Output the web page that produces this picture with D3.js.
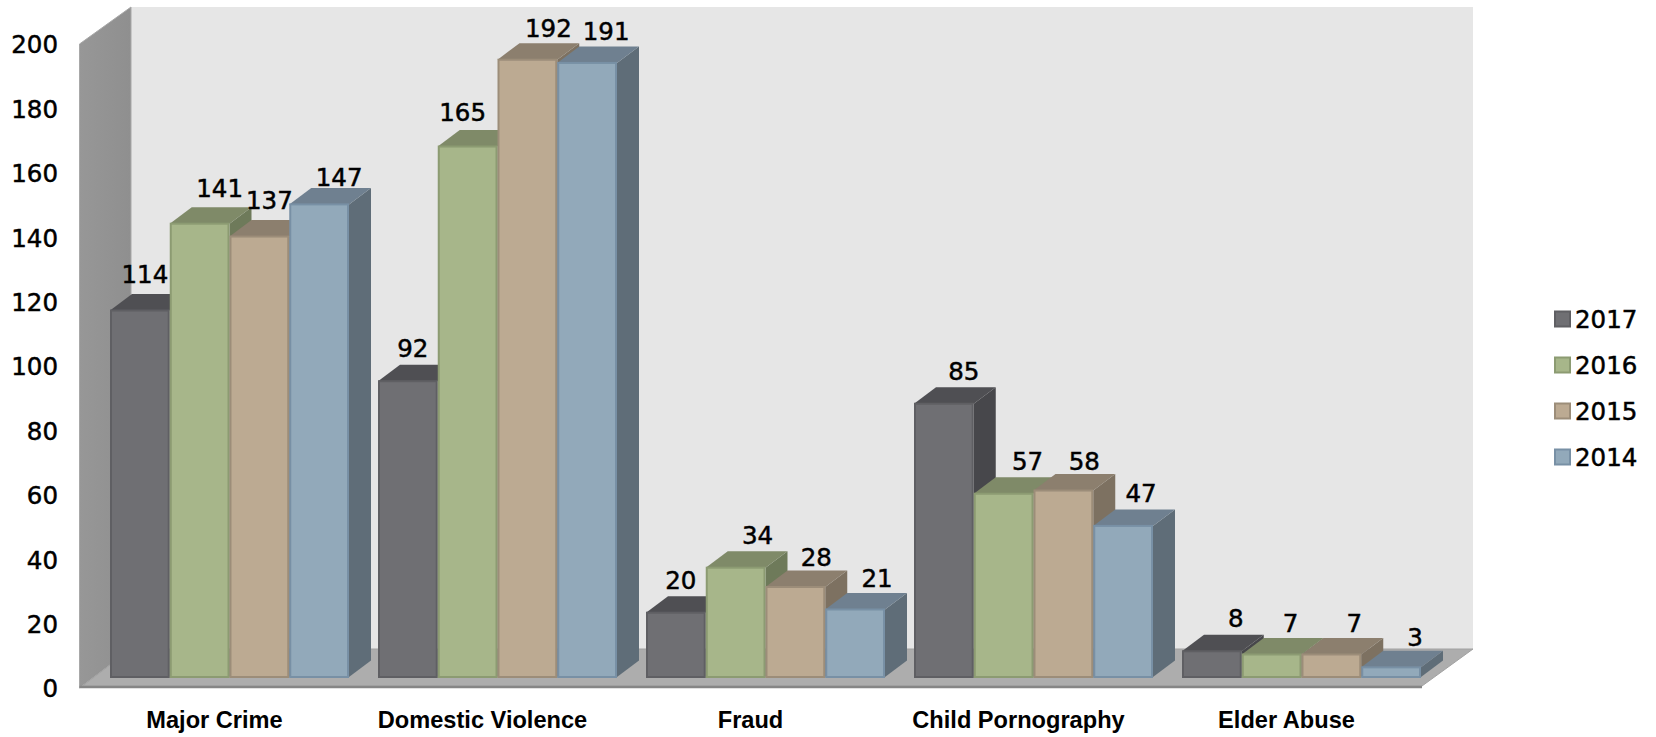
<!DOCTYPE html>
<html><head><meta charset="utf-8">
<script src="https://cdnjs.cloudflare.com/ajax/libs/d3/7.8.5/d3.min.js"></script>
<style>html,body{margin:0;padding:0;background:#fff}svg{display:block}</style>
</head><body><svg id="c" width="1656" height="737"></svg>
<script>
const categories = ["Major Crime","Domestic Violence","Fraud","Child Pornography","Elder Abuse"];
const years = ["2017","2016","2015","2014"];
const v2017 = [114,92,20,85,8];
const v2016 = [141,165,34,57,7];
const v2015 = [137,192,28,58,7];
const v2014 = [147,191,21,47,3];
const seriesValues = [v2017,v2016,v2015,v2014];
const yTicks = [0,20,40,60,80,100,120,140,160,180,200];
const palette = {
  front:["#6f6f73","#a7b68a","#bcaa92","#92a9ba"],
  stroke:["#5f5f63","#8c9b72","#9c8d79","#7890a5"],
  top:["#4f4f53","#7f8a68","#8c7f6e","#6f8090"],
  side:["#47474b","#6e7a5a","#7d7161","#5f6d78"]
};
// hand-placed labels in the source: [category index, series index, dx, dy]
const labelNudge = [
  [0,0,-15,-3],[0,1,0,-3],[0,2,-10,-4],[0,3,0,6],
  [1,0,-15,0],[1,1,-25,-2],[1,2,1,1],[1,3,-1,1],
  [2,0,-15,0],[2,1,2,0],[2,2,1,3],[2,3,2,2],
  [3,1,4,0],[3,2,1,3],[3,3,-2,0],
  [4,0,4,0],[4,1,-1,2],[4,2,3,2],[4,3,4,3]
];

const svg = d3.select("#c");
const W = {fx:79.5,bx:131,rx:1422,brx:1473,top:44,btop:7,bot:688,bbot:649};
const defs = svg.append("defs");
const g = defs.append("linearGradient").attr("id","wall").attr("x1",0).attr("x2",1).attr("y1",0).attr("y2",0);
g.append("stop").attr("offset",0).attr("stop-color","#979797");
g.append("stop").attr("offset",1).attr("stop-color","#8f8f8f");
const poly = pts => pts.map(p=>p.join(",")).join(" ");

// walls
svg.append("rect").attr("x",W.bx).attr("y",W.btop).attr("width",W.brx-W.bx).attr("height",W.bbot-W.btop).attr("fill","#e6e6e6");
svg.append("polygon").attr("points",poly([[W.fx,W.top],[W.bx,W.btop],[W.bx,W.bbot],[W.fx,W.bot]])).attr("fill","url(#wall)").attr("stroke","#a8a8a8").attr("stroke-width",1);
svg.append("polygon").attr("points",poly([[W.fx+3,W.bot-2],[W.bx,W.bbot],[W.brx,W.bbot],[W.rx,W.bot-2]])).attr("fill","#adadad").attr("stroke","#a2a2a2").attr("stroke-width",1);
svg.append("line").attr("x1",W.fx).attr("x2",W.rx).attr("y1",W.bot-1).attr("y2",W.bot-1).attr("stroke","#868686").attr("stroke-width",2.5);

// scales
const y = d3.scaleLinear().domain([0,200]).range([W.bot,W.top]);
const yBar = d3.scaleLinear().domain([0,200]).range([677,34]);
const x0 = d3.scaleBand().domain(categories).range([95.5,1435.5]).paddingInner(29/268).paddingOuter(14.5/268);
const x1 = d3.scaleBand().domain(years).range([0,x0.bandwidth()]);
const dx = 22, dy = 16.5, catShift = -15;

// bars
categories.forEach((cat,ci)=>{
  years.forEach((yr,si)=>{
    const v = seriesValues[si][ci];
    const l = x0(cat)+x1(yr), r = l+x1.bandwidth(), t = yBar(v), b = yBar(0);
    const bar = svg.append("g");
    bar.append("polygon").attr("points",poly([[r,t],[r+dx,t-dy],[r+dx,b-dy],[r,b]])).attr("fill",palette.side[si]);
    bar.append("polygon").attr("points",poly([[l,t],[l+dx,t-dy],[r+dx,t-dy],[r,t]])).attr("fill",palette.top[si]);
    bar.append("rect").attr("x",l+1).attr("y",t).attr("width",r-l-2).attr("height",b-t)
      .attr("fill",palette.front[si]).attr("stroke",palette.stroke[si]).attr("stroke-width",2);
  });
});

// data labels
const valueFont = "'DejaVu Sans'";
const valueSize = 24.5, faux = 0.5;
categories.forEach((cat,ci)=>{
  years.forEach((yr,si)=>{
    const v = seriesValues[si][ci];
    const n = labelNudge.find(d=>d[0]===ci&&d[1]===si) || [ci,si,0,0];
    svg.append("text")
      .attr("x",x0(cat)+x1(yr)+x1.bandwidth()/2+20+n[2])
      .attr("y",yBar(v)-24+n[3])
      .attr("text-anchor","middle")
      .attr("font-family",valueFont).attr("font-size",valueSize).attr("fill","#000")
      .attr("stroke","#000").attr("stroke-width",faux)
      .text(v);
  });
});

// axes
const ya = svg.append("g").attr("transform","translate(58,0)")
  .call(d3.axisLeft(y).tickValues(yTicks).tickSize(0).tickPadding(0));
ya.select(".domain").remove();
ya.selectAll("text").attr("font-family",valueFont).attr("font-size",valueSize).attr("fill","#000")
  .attr("stroke","#000").attr("stroke-width",faux).attr("dy","0.36em");

const xa = svg.append("g").attr("transform",`translate(${catShift},0)`)
  .call(d3.axisBottom(x0).tickSize(0).tickPadding(0));
xa.select(".domain").remove();
xa.selectAll("text").attr("y",728).attr("dy",0).attr("font-family","'Liberation Sans'").attr("font-weight","bold").attr("font-size",23.6).attr("fill","#000");

// legend
const ly = d3.scalePoint().domain(years).range([319,457]);
years.forEach((yr,si)=>{
  svg.append("rect").attr("x",1555).attr("y",ly(yr)-7.5).attr("width",15).attr("height",15)
    .attr("fill",palette.front[si]).attr("stroke",palette.stroke[si]).attr("stroke-width",2);
  svg.append("text").attr("x",1575).attr("y",ly(yr)+8.5)
    .attr("font-family",valueFont).attr("font-size",valueSize).attr("fill","#000")
    .attr("stroke","#000").attr("stroke-width",faux).text(yr);
});
</script></body></html>
